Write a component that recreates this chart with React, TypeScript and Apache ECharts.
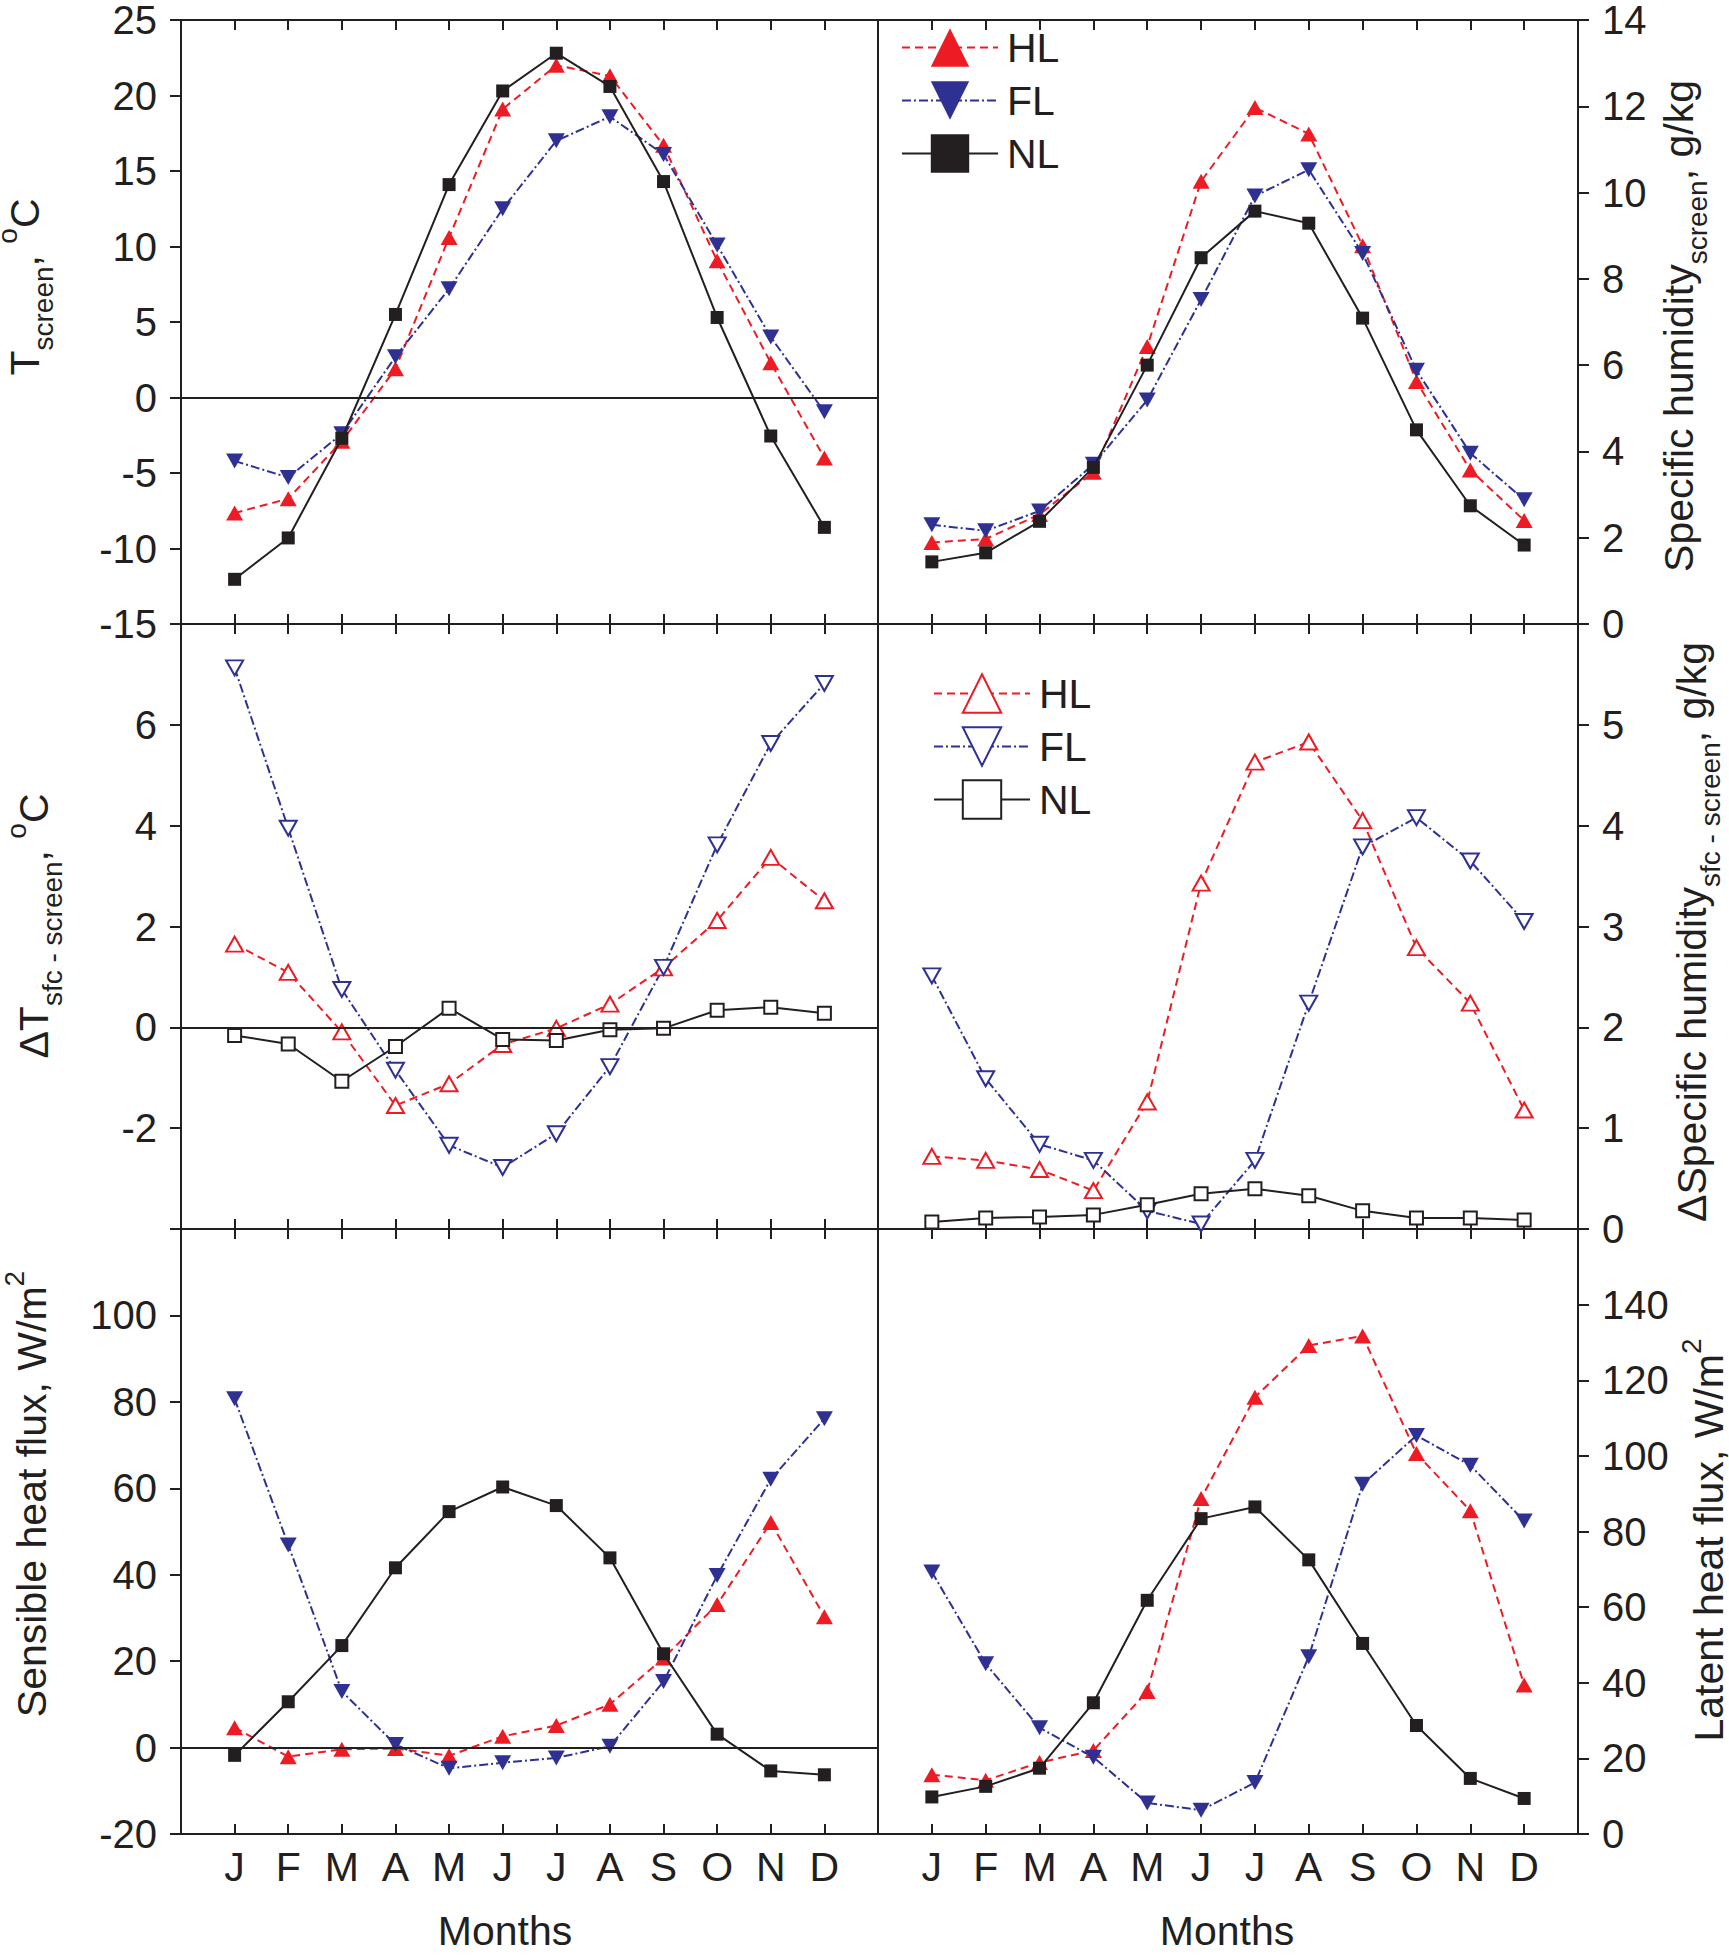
import React, { useEffect, useRef } from 'react';
import * as echarts from 'echarts';

// ---------- data ----------
const MONTHS = ['J', 'F', 'M', 'A', 'M', 'J', 'J', 'A', 'S', 'O', 'N', 'D'];

// Screen temperature, °C
const T_SCREEN_HL = [-7.65, -6.7, -2.9, 1.9, 10.6, 19.1, 22.0, 21.3, 16.7, 9.05, 2.3, -4.0];
const T_SCREEN_FL = [-4.2, -5.3, -2.4, 2.7, 7.2, 12.5, 17.0, 18.6, 16.1, 10.1, 4.0, -0.95];
const T_SCREEN_NL = [-12.04, -9.3, -2.7, 5.5, 14.1, 20.3, 22.8, 20.6, 14.3, 5.3, -2.55, -8.6];

// Screen specific humidity, g/kg
const Q_SCREEN_HL = [1.89, 1.97, 2.54, 3.52, 6.43, 10.26, 11.97, 11.36, 8.77, 5.62, 3.57, 2.4];
const Q_SCREEN_FL = [2.3, 2.16, 2.62, 3.7, 5.19, 7.52, 9.92, 10.53, 8.59, 5.88, 3.96, 2.88];
const Q_SCREEN_NL = [1.44, 1.65, 2.38, 3.63, 6.0, 8.49, 9.57, 9.29, 7.09, 4.5, 2.74, 1.83];

// Delta T sfc - screen, °C
const DT_HL = [1.65, 1.09, -0.09, -1.55, -1.12, -0.34, -0.02, 0.46, 1.18, 2.12, 3.37, 2.51];
const DT_FL = [7.13, 3.95, 0.75, -0.85, -2.34, -2.78, -2.11, -0.78, 1.19, 3.62, 5.63, 6.82];
const DT_NL = [-0.16, -0.33, -1.07, -0.38, 0.38, -0.24, -0.26, -0.05, -0.02, 0.34, 0.4, 0.28];

// Delta specific humidity sfc - screen, g/kg
const DQ_HL = [0.72, 0.68, 0.59, 0.38, 1.26, 3.43, 4.63, 4.83, 4.05, 2.79, 2.24, 1.18];
const DQ_FL = [2.51, 1.49, 0.84, 0.68, 0.18, 0.05, 0.68, 2.24, 3.79, 4.08, 3.65, 3.05];
const DQ_NL = [0.07, 0.11, 0.12, 0.14, 0.24, 0.35, 0.4, 0.33, 0.18, 0.11, 0.11, 0.09];

// Sensible heat flux, W/m2
const SH_HL = [4.6, -2.1, -0.4, -0.2, -1.9, 2.6, 5.1, 10.0, 20.7, 33.1, 52.1, 30.3];
const SH_FL = [80.7, 46.9, 13.0, 0.7, -4.8, -3.5, -2.4, 0.3, 15.3, 39.8, 62.1, 76.1];
const SH_NL = [-1.8, 10.6, 23.6, 41.6, 54.6, 60.3, 56.0, 43.9, 21.7, 3.1, -5.4, -6.3];

// Latent heat flux, W/m2
const LH_HL = [15.7, 14.2, 18.9, 22.1, 37.7, 88.7, 115.5, 129.2, 131.7, 100.6, 85.5, 39.4];
const LH_FL = [69.3, 45.0, 28.1, 20.3, 8.2, 6.3, 13.6, 46.9, 92.5, 105.4, 97.5, 82.8];
const LH_NL = [9.8, 12.6, 17.4, 34.7, 61.8, 83.4, 86.5, 72.5, 50.4, 28.7, 14.7, 9.4];

// y-axis ranges per panel: [min, max, interval, hiddenLabels]
const Y_RANGES: [number, number, number, number[]][] = [
  [-15, 25, 5, []],
  [0, 14, 2, []],
  [-4, 8, 2, [-4, 8]],
  [0, 6, 1, [6]],
  [-20, 120, 20, [120]],
  [0, 160, 20, [160]],
];

// ---------- styling ----------
const FONT = '"Liberation Sans", Arial, Helvetica, sans-serif';
const INK = '#231F20';
const RED = '#ED1C24';
const BLUE = '#2E3192';

const COLS = [
  { left: 181, width: 697 },
  { left: 878, width: 700 },
];
const ROW_TOPS = [19, 624, 1229];
const ROW_H = 605;

type Key = 'HL' | 'FL' | 'NL';
const STYLE: Record<Key, any> = {
  HL: { color: RED, symbol: 'triangle', size: [17, 15], rotate: 0, type: [8, 5] },
  FL: { color: BLUE, symbol: 'triangle', size: [17, 15], rotate: 180, type: [9, 3, 2, 3] },
  NL: { color: INK, symbol: 'rect', size: [13, 13], rotate: 0, type: 'solid' },
};

function makeSeries(key: Key, values: number[], g: number, open: boolean, zero: boolean) {
  const s = STYLE[key];
  const series: any = {
    type: 'line',
    name: open ? key + ' ' : key,
    xAxisIndex: g * 2,
    yAxisIndex: g,
    data: values.map((v, i) => [i + 1, v]),
    symbol: s.symbol,
    symbolSize: s.size,
    symbolRotate: s.rotate,
    showSymbol: true,
    silent: true,
    z: key === 'NL' ? 4 : 3,
    lineStyle: { color: s.color, width: 2, type: s.type },
    itemStyle: open
      ? { color: '#ffffff', borderColor: s.color, borderWidth: 2 }
      : { color: s.color, borderWidth: 0 },
  };
  if (zero) {
    series.markLine = {
      silent: true,
      symbol: ['none', 'none'],
      label: { show: false },
      lineStyle: { color: INK, width: 2, type: 'solid' },
      data: [{ yAxis: 0 }],
    };
  }
  return series;
}

const RICH = {
  b: { fontSize: 41, fontFamily: FONT, fill: INK, lineHeight: 64 },
  s: { fontSize: 28, fontFamily: FONT, fill: INK, lineHeight: 20, verticalAlign: 'bottom' },
  p: { fontSize: 28, fontFamily: FONT, fill: INK, lineHeight: 38, verticalAlign: 'top' },
};

function vTitle(x: number, y: number, text: string) {
  return {
    type: 'text',
    x,
    y,
    rotation: Math.PI / 2,
    silent: true,
    style: {
      text,
      rich: RICH,
      align: 'center',
      verticalAlign: 'middle',
      fontSize: 41,
      fontFamily: FONT,
      fill: INK,
      lineHeight: 64,
    },
  };
}

function buildOption() {
  const grids: any[] = [];
  const xAxes: any[] = [];
  const yAxes: any[] = [];
  const axisLineStyle = { color: INK, width: 2 };

  for (let r = 0; r < 3; r++) {
    for (let c = 0; c < 2; c++) {
      const g = r * 2 + c;
      grids.push({
        left: COLS[c].left,
        top: ROW_TOPS[r],
        width: COLS[c].width,
        height: ROW_H,
        show: true,
        borderColor: INK,
        borderWidth: 2,
        backgroundColor: 'transparent',
      });
      const baseX = {
        type: 'value',
        gridIndex: g,
        min: 0,
        max: 13,
        interval: 1,
        axisLine: { show: true, onZero: false, lineStyle: axisLineStyle },
        axisTick: { show: true, inside: true, length: 10, lineStyle: axisLineStyle },
        splitLine: { show: false },
      };
      xAxes.push({
        ...baseX,
        position: 'bottom',
        axisLabel: {
          show: r === 2,
          fontSize: 41,
          fontFamily: FONT,
          color: INK,
          margin: 12,
          formatter: (v: number) => MONTHS[v - 1] ?? '',
        },
      });
      xAxes.push({ ...baseX, position: 'top', axisLabel: { show: false } });

      const [min, max, interval, hidden] = Y_RANGES[g];
      yAxes.push({
        type: 'value',
        gridIndex: g,
        position: c === 0 ? 'left' : 'right',
        min,
        max,
        interval,
        axisLine: { show: true, onZero: false, lineStyle: axisLineStyle },
        axisTick: { show: true, inside: false, length: 11, lineStyle: axisLineStyle },
        splitLine: { show: false },
        axisLabel: {
          fontSize: 40,
          fontFamily: FONT,
          color: INK,
          margin: 24,
          formatter: (v: number) => (hidden.includes(v) ? '' : String(v)),
        },
      });
    }
  }

  const series = [
    makeSeries('HL', T_SCREEN_HL, 0, false, false),
    makeSeries('FL', T_SCREEN_FL, 0, false, false),
    makeSeries('NL', T_SCREEN_NL, 0, false, true),
    makeSeries('HL', Q_SCREEN_HL, 1, false, false),
    makeSeries('FL', Q_SCREEN_FL, 1, false, false),
    makeSeries('NL', Q_SCREEN_NL, 1, false, false),
    makeSeries('HL', DT_HL, 2, true, false),
    makeSeries('FL', DT_FL, 2, true, false),
    makeSeries('NL', DT_NL, 2, true, true),
    makeSeries('HL', DQ_HL, 3, true, false),
    makeSeries('FL', DQ_FL, 3, true, false),
    makeSeries('NL', DQ_NL, 3, true, false),
    makeSeries('HL', SH_HL, 4, false, false),
    makeSeries('FL', SH_FL, 4, false, false),
    makeSeries('NL', SH_NL, 4, false, true),
    makeSeries('HL', LH_HL, 5, false, false),
    makeSeries('FL', LH_FL, 5, false, false),
    makeSeries('NL', LH_NL, 5, false, false),
  ];

  const legendBase = {
    orient: 'vertical',
    itemWidth: 96,
    itemHeight: 48,
    itemGap: 12,
    selectedMode: false,
    symbolRotate: 'inherit',
    textStyle: { fontSize: 41, fontFamily: FONT, color: INK, padding: [0, 0, 0, 4] },
    formatter: (n: string) => n.trim(),
  };

  return {
    animation: false,
    backgroundColor: '#ffffff',
    grid: grids,
    xAxis: xAxes,
    yAxis: yAxes,
    legend: [
      { ...legendBase, data: ['HL', 'FL', 'NL'], left: 896, top: 22 },
      { ...legendBase, data: ['HL ', 'FL ', 'NL '], left: 928, top: 668 },
    ],
    series,
    graphic: [
      vTitle(25, 287, '{b|T}{s|screen}{b|, }{p|o}{b|C}'),
      vTitle(34, 926, '{b|ΔT}{s|sfc - screen}{b|, }{p|o}{b|C}'),
      vTitle(32, 1494, '{b|Sensible heat flux, W/m}{p|2}'),
      vTitle(1679, 326, '{b|Specific humidity}{s|screen}{b|, g/kg}'),
      vTitle(1692, 932, '{b|ΔSpecific humidity}{s|sfc - screen}{b|, g/kg}'),
      vTitle(1709, 1540, '{b|Latent heat flux, W/m}{p|2}'),
      {
        type: 'text',
        x: 505,
        y: 1910,
        silent: true,
        style: { text: 'Months', fontSize: 41, fontFamily: FONT, fill: INK, align: 'center', verticalAlign: 'top' },
      },
      {
        type: 'text',
        x: 1227,
        y: 1910,
        silent: true,
        style: { text: 'Months', fontSize: 41, fontFamily: FONT, fill: INK, align: 'center', verticalAlign: 'top' },
      },
    ],
  };
}

export default function App() {
  const ref = useRef<HTMLDivElement>(null);
  useEffect(() => {
    if (!ref.current) return;
    const chart = echarts.init(ref.current, null, { renderer: 'svg' });
    chart.setOption(buildOption() as any);
    return () => chart.dispose();
  }, []);
  return (
    <div
      ref={ref}
      style={{ position: 'absolute', left: 0, top: 0, width: 1729, height: 1955, background: '#ffffff' }}
    />
  );
}
